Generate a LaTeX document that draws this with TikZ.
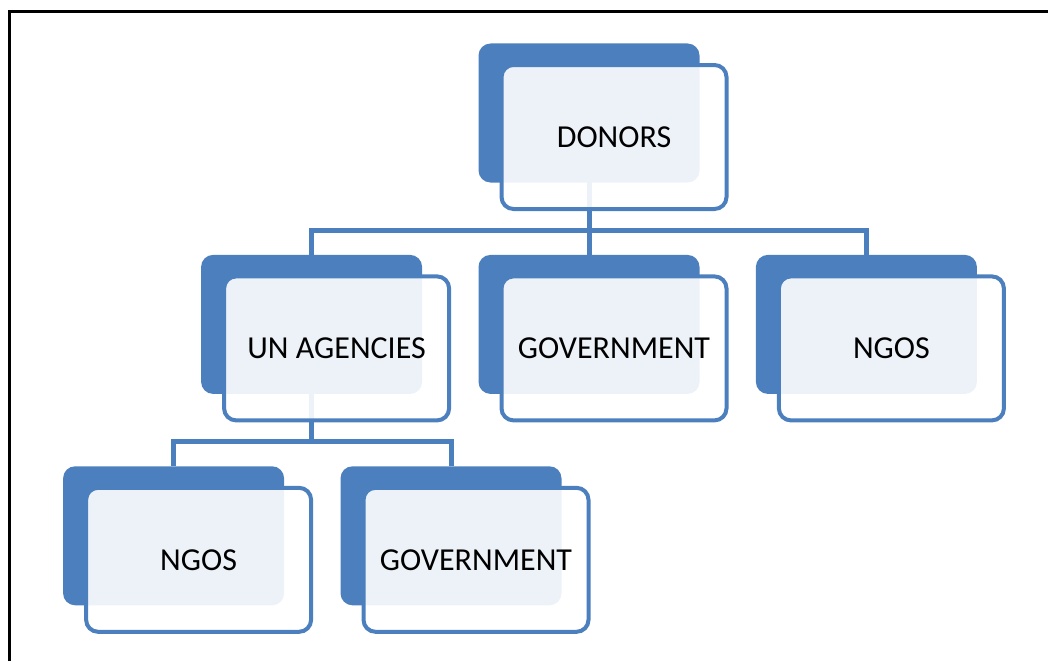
\documentclass[tikz,border=0pt]{standalone}
\usepackage{fontspec}
\setmainfont{Carlito}
\usepackage{tikz}
\usetikzlibrary{positioning, backgrounds}
\definecolor{boxblue}{RGB}{76,127,190}

\tikzset{
    backbox/.style={fill=boxblue, rounded corners=12pt, minimum width=221pt, minimum height=139pt, inner sep=0pt},
    frontbox/.style={draw=boxblue, line width=4pt, fill=white, fill opacity=0.9, text opacity=1, rounded corners=12pt, minimum width=225pt, minimum height=144pt, inner sep=0pt, font=\fontsize{32}{38}\selectfont},
    link/.style={draw=boxblue, line width=5pt}
}

\begin{document}
\begin{tikzpicture}[x=1pt, y=1pt]
    \useasboundingbox (0,0) rectangle (1048,-661);
    \draw[line width=3pt] (9,-661) -- (9,-12) -- (1048,-12);

    % back boxes
    \node (donors_back) [backbox] at (589,-113) {};
    \node (government_back) [backbox, below=72pt of donors_back] {};
    \node (un_agencies_back) [backbox, left=56pt of government_back] {};
    \node (ngos_back) [backbox, right=56pt of government_back] {};
    \node (un_ngos_back) [backbox, below=72pt of un_agencies_back, xshift=-138pt] {};
    \node (un_government_back) [backbox, right=56pt of un_ngos_back] {};

    % connectors, under the boxes
    \begin{pgfonlayer}{background}
        \draw[link] (donors_back.center) -- ++(0,-117pt) -| (un_agencies_back.north);
        \draw[link] (donors_back.center) -- ++(0,-117pt) -| (ngos_back.north);
        \draw[link] (donors_back.center) -- (government_back.north);
        \draw[link] (un_agencies_back.center) -- ++(0,-117pt) -| (un_ngos_back.north);
        \draw[link] (un_agencies_back.center) -- ++(0,-117pt) -| (un_government_back.north);
    \end{pgfonlayer}

    % front boxes
    \node (donors) [frontbox] at ([shift={(25pt,-24pt)}]donors_back.center) {DONORS};
    \node (un_agencies) [frontbox] at ([shift={(25pt,-24pt)}]un_agencies_back.center) {UN AGENCIES};
    \node (government) [frontbox] at ([shift={(25pt,-24pt)}]government_back.center) {GOVERNMENT};
    \node (ngos) [frontbox] at ([shift={(25pt,-24pt)}]ngos_back.center) {NGOS};
    \node (un_ngos) [frontbox] at ([shift={(25pt,-24pt)}]un_ngos_back.center) {NGOS};
    \node (un_government) [frontbox] at ([shift={(25pt,-24pt)}]un_government_back.center) {GOVERNMENT};
\end{tikzpicture}
\end{document}
